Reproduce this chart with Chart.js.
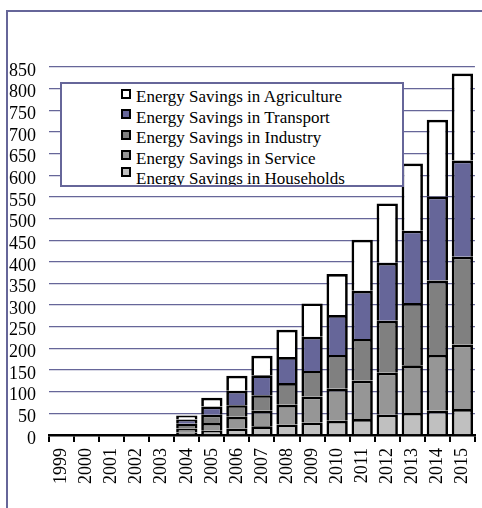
<!DOCTYPE html>
<html>
<head>
<meta charset="utf-8">
<script src="https://cdn.jsdelivr.net/npm/chart.js@4.4.1/dist/chart.umd.min.js"></script>
<style>
  html, body { margin: 0; padding: 0; background: #fff; overflow: hidden; width: 482px; height: 508px; }
  #wrap { position: relative; width: 490px; height: 508px; }
  #frame { position: absolute; left: 6px; top: 10px; width: 600px; height: 600px;
           border-left: 2px solid #666699; border-top: 2px solid #666699; pointer-events: none; }
  #legend { position: absolute; left: 60px; top: 82px; width: 344px; height: 105px; box-sizing: border-box;
            border: 2px solid #666699; background: #fff; overflow: hidden; padding-top: 3px;
            font-family: 'Liberation Serif', 'Times New Roman', serif; font-size: 17px; color: #000; }
  .row { position: relative; height: 20.5px; line-height: 20.5px; padding-left: 74px; white-space: nowrap; }
  .sw { position: absolute; left: 59px; width: 10px; height: 10px; box-sizing: border-box; border: 2px solid #000; }
</style>
</head>
<body>
<div id="wrap">
  <canvas id="c" width="490" height="508" style="width:490px;height:508px;display:block"></canvas>
  <div id="frame"></div>
  <div id="legend"></div>
</div>
<script>
const categories = ['1999','2000','2001','2002','2003','2004','2005','2006','2007','2008','2009','2010','2011','2012','2013','2014','2015'];
const seriesNames = ['Energy Savings in Households','Energy Savings in Service','Energy Savings in Industry','Energy Savings in Transport','Energy Savings in Agriculture'];
const households  = [0,0,0,0,0, 6,10,15,20,24,29,33,37,47,51,56,60];
const service     = [0,0,0,0,0, 9,18,27,36,46,60,74,89,97,110,129,149];
const industry    = [0,0,0,0,0,11,19,27,36,50,59,78,96,120,144,172,203];
const transport   = [0,0,0,0,0,10,19,33,46,60,79,92,111,134,167,194,222];
const agriculture = [0,0,0,0,0, 9,20,35,45,63,77,95,118,137,155,177,201];
const yTicks = [0,50,100,150,200,250,300,350,400,450,500,550,600,650,700,750,800,850];
const colors = ['#C0C0C0','#969696','#808080','#666699','#FFFFFF'];
const seriesValues = [households, service, industry, transport, agriculture];

const FONT = "'Liberation Serif', 'Times New Roman', serif";
Chart.defaults.font.family = FONT;
Chart.defaults.color = '#000';

const datasets = seriesNames.map((name, i) => ({
  label: name,
  data: seriesValues[i],
  backgroundColor: colors[i],
  borderColor: '#000',
  borderWidth: 2.7,
  borderSkipped: 'start',
  barPercentage: 0.85,
  categoryPercentage: 1.0
}));

new Chart(document.getElementById('c'), {
  type: 'bar',
  data: { labels: categories, datasets },
  options: {
    responsive: false,
    animation: false,
    devicePixelRatio: 1,
    layout: { padding: { left: 0, top: 67, right: 0, bottom: 0 } },
    plugins: { legend: { display: false }, tooltip: { enabled: false } },
    scales: {
      x: {
        stacked: true,
        z: 1,
        grid: { display: true, drawOnChartArea: false, drawTicks: true, tickLength: 7, color: '#000', lineWidth: 2, offset: true },
        border: { display: true, color: '#000', width: 2.5 },
        ticks: { autoSkip: false, minRotation: 90, maxRotation: 90, padding: 6, font: { size: 18, family: FONT }, color: '#000' },
        afterFit: (s) => { s.height = 73; }
      },
      y: {
        stacked: true,
        min: 0, max: 850,
        afterBuildTicks: (s) => { s.ticks = yTicks.map(v => ({ value: v })); },
        grid: { color: (ctx) => ctx.tick && ctx.tick.value === 0 ? 'rgba(0,0,0,0)' : '#666699', lineWidth: 1.3, drawTicks: false },
        border: { display: false },
        ticks: { autoSkip: false, padding: 13, labelOffset: 4, font: { size: 18, family: FONT }, color: '#000' },
        afterFit: (s) => { s.width = 49; }
      }
    }
  }
});

const legend = document.getElementById('legend');
for (let i = seriesNames.length - 1; i >= 0; i--) {
  const row = document.createElement('div');
  row.className = 'row';
  const sw = document.createElement('span');
  sw.className = 'sw';
  sw.style.background = colors[i];
  sw.style.top = (i === 0 ? -2 : 1.7) + 'px';
  row.appendChild(sw);
  row.appendChild(document.createTextNode(seriesNames[i]));
  legend.appendChild(row);
}
</script>
</body>
</html>
